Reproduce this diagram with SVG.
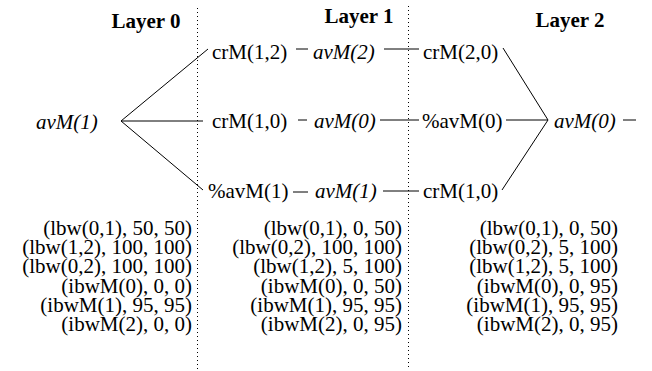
<svg xmlns="http://www.w3.org/2000/svg" width="652" height="371" viewBox="0 0 652 371">
<style>
text{font-family:"Liberation Serif","Times New Roman",serif;font-size:21px;fill:#000}
.h{font-weight:bold;text-anchor:middle}
.i{font-style:italic}
.r{text-anchor:end}
.dot{stroke:#000;stroke-width:1;stroke-dasharray:1 3;fill:none}
#connectors line{stroke:#000;stroke-width:1}
</style>
<rect width="652" height="371" fill="#fff"/>
<g id="dividers">
<line class="dot" x1="197.5" y1="8" x2="197.5" y2="370"/>
<line class="dot" x1="408.5" y1="6" x2="408.5" y2="370"/>
</g>
<g id="headers">
<text class="h" x="146" y="28">Layer 0</text>
<text class="h" x="359" y="23">Layer 1</text>
<text class="h" x="570" y="27">Layer 2</text>
</g>
<g id="connectors">
<line x1="121" y1="121" x2="208" y2="49"/>
<line x1="121" y1="121" x2="203" y2="121"/>
<line x1="121" y1="121" x2="203" y2="190"/>
<line x1="296" y1="49" x2="308" y2="49"/>
<line x1="384" y1="49" x2="419" y2="49"/>
<line x1="298" y1="120" x2="307" y2="120"/>
<line x1="380" y1="120" x2="419" y2="120"/>
<line x1="293" y1="192" x2="308" y2="192"/>
<line x1="383" y1="191" x2="419" y2="191"/>
<line x1="503" y1="48" x2="548" y2="120"/>
<line x1="506" y1="120" x2="548" y2="120"/>
<line x1="502" y1="190" x2="548" y2="120"/>
<line x1="623" y1="120" x2="636" y2="120"/>
</g>
<g id="n-avM1-l0"><text class="i" x="36" y="129">avM(1)</text></g>
<g id="n-crM12"><text x="212" y="59">crM(1,2)</text></g>
<g id="n-avM2"><text class="i" x="313" y="59">avM(2)</text></g>
<g id="n-crM10-l1"><text x="212" y="128">crM(1,0)</text></g>
<g id="n-avM0-l1"><text class="i" x="314" y="128">avM(0)</text></g>
<g id="n-pavM1"><text x="208" y="198">%avM(1)</text></g>
<g id="n-avM1-l1"><text class="i" x="315" y="198">avM(1)</text></g>
<g id="n-crM20"><text x="423" y="59">crM(2,0)</text></g>
<g id="n-pavM0"><text x="422" y="128">%avM(0)</text></g>
<g id="n-crM10-l2"><text x="423" y="198">crM(1,0)</text></g>
<g id="n-avM0-l2"><text class="i" x="554" y="128">avM(0)</text></g>
<g id="bounds-l0">
<text class="r" x="192" y="235">(lbw(0,1), 50, 50)</text>
<text class="r" x="192" y="254">(lbw(1,2), 100, 100)</text>
<text class="r" x="192" y="273">(lbw(0,2), 100, 100)</text>
<text class="r" x="192" y="292.5">(ibwM(0), 0, 0)</text>
<text class="r" x="192" y="311.5">(ibwM(1), 95, 95)</text>
<text class="r" x="192" y="331">(ibwM(2), 0, 0)</text>
</g>
<g id="bounds-l1">
<text class="r" x="402" y="235">(lbw(0,1), 0, 50)</text>
<text class="r" x="402" y="254">(lbw(0,2), 100, 100)</text>
<text class="r" x="402" y="273">(lbw(1,2), 5, 100)</text>
<text class="r" x="402" y="292.5">(ibwM(0), 0, 50)</text>
<text class="r" x="402" y="311.5">(ibwM(1), 95, 95)</text>
<text class="r" x="402" y="331">(ibwM(2), 0, 95)</text>
</g>
<g id="bounds-l2">
<text class="r" x="618" y="235">(lbw(0,1), 0, 50)</text>
<text class="r" x="618" y="254">(lbw(0,2), 5, 100)</text>
<text class="r" x="618" y="273">(lbw(1,2), 5, 100)</text>
<text class="r" x="618" y="292.5">(ibwM(0), 0, 95)</text>
<text class="r" x="618" y="311.5">(ibwM(1), 95, 95)</text>
<text class="r" x="618" y="331">(ibwM(2), 0, 95)</text>
</g>
</svg>
